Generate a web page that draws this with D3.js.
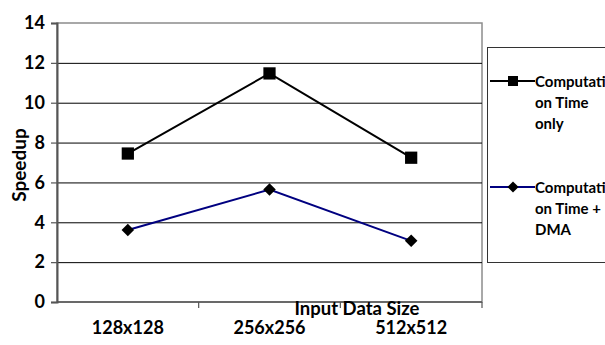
<!DOCTYPE html>
<html>
<head>
<meta charset="utf-8">
<script src="https://cdn.jsdelivr.net/npm/d3@7"></script>
<style>
  body { margin: 0; background: #fff; }
  text { font-family: Lato, "Open Sans", sans-serif; font-weight: bold; fill: #000; }
</style>
</head>
<body>
<svg id="chart"></svg>
<script>
let width = 605;
let height = 345;

// data
let sizes = ["128x128", "256x256", "512x512"];
let computeOnly = [7.45, 11.47, 7.24];
let computeDma = [3.61, 5.64, 3.07];
let yTicks = [0, 2, 4, 6, 8, 10, 12, 14];
let seriesNames = [["Computati", "on Time", "only"], ["Computati", "on Time +", "DMA"]];

let plot = { left: 57, right: 482, top: 23, bottom: 302 };

let svg = d3.select("#chart")
    .attr("width", width)
    .attr("height", height);

let x = d3.scaleBand()
    .domain(sizes)
    .range([plot.left, plot.right])
    .padding(0);

let y = d3.scaleLinear()
    .domain([0, 14])
    .range([plot.bottom, plot.top]);

// plot frame (top + right grey)
svg.append("rect")
    .attr("x", plot.left)
    .attr("y", plot.top)
    .attr("width", plot.right - plot.left)
    .attr("height", plot.bottom - plot.top)
    .attr("fill", "none")
    .attr("stroke", "#8c8c8c")
    .attr("stroke-width", 1.5);

// gridlines
svg.selectAll(".grid")
    .data(yTicks.filter(d => d > 0 && d < 14))
    .enter()
    .append("line")
    .attr("class", "grid")
    .attr("x1", plot.left)
    .attr("x2", plot.right)
    .attr("y1", d => y(d) + 0.5)
    .attr("y2", d => y(d) + 0.5)
    .attr("stroke", "#000")
    .attr("stroke-width", 1);

// y axis
let yAxis = svg.append("g")
    .attr("transform", "translate(" + plot.left + ",0)")
    .call(d3.axisLeft(y).tickValues(yTicks).tickSize(6).tickPadding(6));
yAxis.select(".domain").attr("stroke", "#555").attr("stroke-width", 2);
yAxis.selectAll(".tick line").attr("stroke", "#555").attr("stroke-width", 1.2);
yAxis.selectAll(".tick text")
    .style("font-size", "18px")
    .attr("font-family", null)
    .attr("fill", "#000");

// x axis: ticks at category boundaries
let xAxis = svg.append("g")
    .attr("transform", "translate(0," + plot.bottom + ")");
xAxis.append("line")
    .attr("x1", plot.left)
    .attr("x2", plot.right)
    .attr("stroke", "#555")
    .attr("stroke-width", 1.5);
xAxis.selectAll(".xtick")
    .data(sizes.slice(1).concat(["end"]))
    .enter()
    .append("line")
    .attr("x1", (d, i) => i < sizes.length - 1 ? x(d) : plot.right)
    .attr("x2", (d, i) => i < sizes.length - 1 ? x(d) : plot.right)
    .attr("y1", 0)
    .attr("y2", 6)
    .attr("stroke", "#555")
    .attr("stroke-width", 1.2);
xAxis.selectAll(".xlabel")
    .data(sizes)
    .enter()
    .append("text")
    .attr("x", d => x(d) + x.bandwidth() / 2)
    .attr("y", 32)
    .attr("text-anchor", "middle")
    .style("font-size", "18px")
    .text(d => d);

svg.append("text")
    .attr("x", 357)
    .attr("y", 315)
    .attr("text-anchor", "middle")
    .style("font-size", "18.5px")
    .text("Input Data Size");

svg.append("text")
    .attr("transform", "translate(26,165) rotate(-90)")
    .attr("text-anchor", "middle")
    .style("font-size", "19px")
    .text("Speedup");

// series
let cx = (d, i) => x(sizes[i]) + x.bandwidth() / 2;
let line = d3.line().x(cx).y(d => y(d));

svg.append("path")
    .attr("d", line(computeOnly))
    .attr("fill", "none")
    .attr("stroke", "#000")
    .attr("stroke-width", 2);

svg.append("path")
    .attr("d", line(computeDma))
    .attr("fill", "none")
    .attr("stroke", "#000080")
    .attr("stroke-width", 2);

let square = d3.symbol().type(d3.symbolSquare).size(150);
let diamond = d3.symbol().type(d3.symbolDiamond2).size(100);

svg.selectAll(".sq")
    .data(computeOnly)
    .enter()
    .append("path")
    .attr("d", square)
    .attr("transform", (d, i) => "translate(" + cx(d, i) + "," + y(d) + ")")
    .attr("fill", "#000");

svg.selectAll(".dm")
    .data(computeDma)
    .enter()
    .append("path")
    .attr("d", diamond)
    .attr("transform", (d, i) => "translate(" + cx(d, i) + "," + y(d) + ")")
    .attr("fill", "#000");

// legend
let legend = svg.append("g");
legend.append("rect")
    .attr("x", 487.5)
    .attr("y", 47.5)
    .attr("width", 130)
    .attr("height", 215)
    .attr("fill", "#fff")
    .attr("stroke", "#333")
    .attr("stroke-width", 1);

let legendItems = [
    { names: seriesNames[0], color: "#000", marker: d3.symbol().type(d3.symbolSquare).size(100), y: 81 },
    { names: seriesNames[1], color: "#000080", marker: d3.symbol().type(d3.symbolDiamond2).size(80), y: 187 }
];

legendItems.forEach(item => {
    legend.append("line")
        .attr("x1", 490)
        .attr("x2", 535)
        .attr("y1", item.y)
        .attr("y2", item.y)
        .attr("stroke", item.color)
        .attr("stroke-width", 2);
    legend.append("path")
        .attr("d", item.marker)
        .attr("transform", "translate(513," + item.y + ")")
        .attr("fill", "#000");
    item.names.forEach((t, j) => {
        legend.append("text")
            .attr("x", 535)
            .attr("y", item.y + 6 + j * 21)
            .style("font-size", "15px")
            .text(t);
    });
});
</script>
</body>
</html>
